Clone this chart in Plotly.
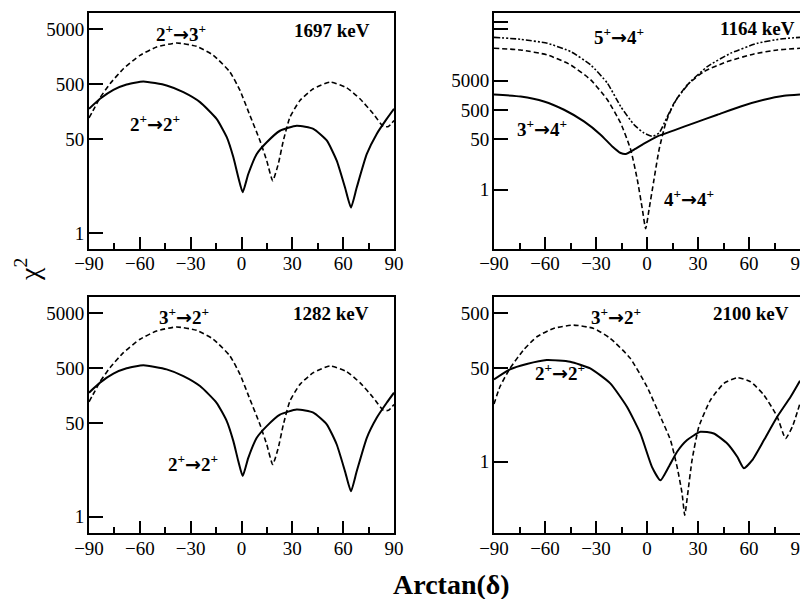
import plotly.graph_objects as go

# ---------------- data ----------------
# 1697 keV panel
x_1697_22 = [-90, -83.5, -75.6, -67.8, -57.9, -44.2, -34.3, -24.5, -14.7, -8.7, -4.8, -1.9, 0.7,
             4.0, 9.0, 14.9, 22.7, 32.6, 42.4, 50.3, 56.2, 61.1, 64.6, 68.0, 73.9, 79.8, 85.7, 90]
y_1697_22 = [180, 274, 399, 499, 565, 478, 361, 238, 118, 55, 23.7, 10.3, 5.5,
             11.8, 27.3, 44.5, 72, 89, 78, 48, 20.6, 6.7, 2.9, 6.7, 27, 63, 118, 180]
x_1697_23 = [-90, -86.5, -83.5, -77.6, -69.7, -59.9, -50.1, -38.3, -26.5, -16.6, -6.8, -0.9, 5.0,
             10.9, 14.9, 18.4, 21.7, 24.7, 28.6, 34.5, 42.4, 52.2, 62.1, 69.9, 77.8, 83.7, 86.7, 90]
y_1697_23 = [123, 193, 285, 513, 962, 1683, 2385, 2818, 2453, 1683, 836, 388, 136,
             47.6, 20.6, 8.9, 17.9, 47.6, 127, 255, 416, 550, 433, 274, 146, 86, 86, 110]

# 1282 keV panel (same shapes as 1697 keV)
x_1282_22 = list(x_1697_22)
y_1282_22 = list(y_1697_22)
x_1282_32 = list(x_1697_23)
y_1282_32 = list(y_1697_23)

# 1164 keV panel
x_1164_34 = [-90, -74.3, -60.6, -48.8, -37.1, -27.3, -20.4, -15.5, -12.5, -7.6, -1.8, 6.1,
             15.9, 27.6, 41.4, 55.1, 68.8, 80.6, 90]
y_1164_34 = [1680, 1438, 975, 509, 205, 73, 29, 17.4, 16.1, 22.6, 36, 64,
             102, 180, 345, 660, 1110, 1514, 1680]
x_1164_44 = [-90, -74.3, -58.6, -44.9, -33.1, -23.3, -15.5, -9.6, -5.7, -2.7, -0.8, 1.2,
             4.1, 7.1, 11.0, 15.9, 23.7, 33.5, 47.3, 62.9, 76.7, 90]
y_1164_44 = [62100, 54400, 36900, 16900, 5270, 1110, 180, 22.6, 2.18, 0.21, 0.047, 0.21,
             2.18, 22.6, 180, 855, 3560, 10100, 22000, 39900, 54400, 62100]
x_1164_54 = [-90, -74.3, -58.6, -44.9, -33.1, -23.3, -15.5, -7.6, -1.8, 3.1, 7.1, 12.0,
             17.8, 25.7, 35.5, 49.2, 64.9, 78.6, 90]
y_1164_54 = [146000, 125000, 91600, 47900, 16900, 4060, 660, 158, 83, 64, 83, 303,
             1262, 4620, 14900, 42000, 91600, 128000, 146000]

# 2100 keV panel
x_2100_22 = [-90, -80.6, -70.7, -59.0, -45.2, -33.4, -21.6, -11.8, -3.9, 2.9, 7.9, 12.8,
             17.7, 23.6, 31.4, 39.3, 47.2, 53.1, 57.0, 61.9, 68.8, 76.6, 84.5, 90]
y_2100_22 = [31.4, 47.7, 59.7, 70.5, 65.8, 49.8, 26.6, 10, 3.27, 0.81, 0.46, 0.81,
             1.52, 2.48, 3.51, 3.27, 2.15, 1.23, 0.76, 1.07, 2.48, 6.58, 15.2, 29.7]
x_2100_32 = [-90, -86.5, -80.6, -72.7, -64.8, -55.0, -43.2, -31.4, -21.6, -9.8, 0.0, 7.9,
             13.8, 17.7, 20.6, 22.2, 24.0, 26.5, 30.5, 37.3, 45.2, 53.1, 60.9, 68.8,
             76.6, 81.5, 85.5, 90]
y_2100_32 = [11.2, 23.1, 49.8, 107, 187, 265, 305, 265, 175, 75.7, 23.1, 6.58,
             2.48, 0.81, 0.27, 0.107, 0.27, 1.07, 4.33, 13.2, 26.6, 33.7, 28.5, 16.3,
             6.58, 2.66, 4.33, 11.5]

x_ticks = [-90, -60, -30, 0, 30, 60, 90]
x_ticktext = ["\u221290", "\u221260", "\u221230", "0", "30", "60", "90"]
y_ticks_main = [1, 50, 500, 5000]
y_ticks_1164 = [1, 50, 500, 5000, 270000, 500000]
y_text_1164 = ["1", "50", "500", "5000", "", ""]
y_ticks_2100 = [1, 50, 500]

FONT = "Liberation Serif"
SOLID = dict(color="black", width=2, dash="solid")
DASH = dict(color="black", width=1.6, dash="5px,3px")
DASHDOT = dict(color="black", width=1.6, dash="6px,2px,2px,2px,2px,2px")

fig = go.Figure()

def add(x, y, line, xa, ya):
    fig.add_trace(go.Scatter(x=x, y=y, mode="lines", line=dict(shape="spline", smoothing=0.5, **line),
                             xaxis=xa, yaxis=ya, showlegend=False, hoverinfo="skip"))

add(x_1697_23, y_1697_23, DASH, "x", "y")
add(x_1697_22, y_1697_22, SOLID, "x", "y")
add(x_1164_54, y_1164_54, DASHDOT, "x2", "y2")
add(x_1164_44, y_1164_44, DASH, "x2", "y2")
add(x_1164_34, y_1164_34, SOLID, "x2", "y2")
add(x_1282_32, y_1282_32, DASH, "x3", "y3")
add(x_1282_22, y_1282_22, SOLID, "x3", "y3")
add(x_2100_32, y_2100_32, DASH, "x4", "y4")
add(x_2100_22, y_2100_22, SOLID, "x4", "y4")

W, H = 808, 599
OFF = 8  # page body margin in the browser
px = lambda v: (v - OFF) / W
py = lambda v: 1 - (v - OFF) / H
dom_x_left = [px(89), px(394)]
dom_x_right = [px(494), px(800)]
dom_y_top = [py(248.5), py(12.7)]
dom_y_bot = [py(533.3), py(296.7)]

TICKFONT = dict(family=FONT, size=19, color="black")

def xax(domain, anchor):
    return dict(domain=domain, anchor=anchor, range=[-90, 90], tickvals=x_ticks, ticktext=x_ticktext,
                ticks="inside", ticklen=12, tickwidth=1.5, tickcolor="black", ticklabelstandoff=-3,
                minor=dict(dtick=15, tick0=-90, ticks="inside", ticklen=6, tickwidth=1.5, tickcolor="black"),
                showline=True, linecolor="black", linewidth=2, mirror=True, automargin=False,
                showgrid=False, zeroline=False, tickfont=TICKFONT)

def yax(domain, anchor, rng, vals, text=None):
    d = dict(domain=domain, anchor=anchor, type="log", range=rng, tickvals=vals,
             ticks="inside", ticklen=14, tickwidth=1.5, tickcolor="black", ticklabelstandoff=-1,
             showline=True, linecolor="black", linewidth=2, mirror=True, automargin=False,
             showgrid=False, zeroline=False, tickfont=TICKFONT)
    d["ticktext"] = text if text is not None else [str(v) for v in vals]
    return d

fig.update_layout(
    width=W, height=H, margin=dict(l=0, r=0, t=0, b=0),
    paper_bgcolor="white", plot_bgcolor="white",
    xaxis=xax(dom_x_left, "y"), yaxis=yax(dom_y_top, "x", [-0.28, 4.0], y_ticks_main),
    xaxis2=xax(dom_x_right, "y2"), yaxis2=yax(dom_y_top, "x2", [-2, 6], y_ticks_1164, y_text_1164),
    xaxis3=xax(dom_x_left, "y3"), yaxis3=yax(dom_y_bot, "x3", [-0.3, 4.0], y_ticks_main),
    xaxis4=xax(dom_x_right, "y4"), yaxis4=yax(dom_y_bot, "x4", [-1.3, 3.0], y_ticks_2100),
)

LBL = dict(family=FONT, size=19, color="black")
def lab(text, x, ly, xr, yr, xanchor="center"):
    fig.add_annotation(text="<b>" + text + "</b>", x=x, y=ly, xref=xr, yref=yr, showarrow=False,
                       xanchor=xanchor, yanchor="middle", font=LBL)

ARROW = '<span style="font-family:DejaVu Sans">\u2192</span>'
T = lambda a, b: f"{a}<sup>+</sup>{ARROW}{b}<sup>+</sup>"
lab(T(2, 3), -35.7, 3.63, "x", "y")
lab("1697 keV", 77, 3.68, "x", "y", "right")
lab(T(2, 2), -51.1, 2.0, "x", "y")
lab(T(5, 4), -16.5, 5.21, "x2", "y2")
lab("1164 keV", 88.2, 5.48, "x2", "y2", "right")
lab(T(3, 4), -61.8, 2.1, "x2", "y2")
lab(T(4, 4), 24.7, -0.27, "x2", "y2")
lab(T(3, 2), -33.9, 3.65, "x3", "y3")
lab("1282 keV", 76.4, 3.70, "x3", "y3", "right")
lab(T(2, 2), -28.6, 0.98, "x3", "y3")
lab(T(3, 2), -18.2, 2.65, "x4", "y4")
lab("2100 keV", 84.7, 2.70, "x4", "y4", "right")
lab(T(2, 2), -51.2, 1.63, "x4", "y4")

fig.add_annotation(text="\u03c7<sup>2</sup>", x=px(27), y=py(270), xref="paper", yref="paper",
                   xanchor="center", yanchor="middle",
                   showarrow=False, textangle=-90, font=dict(family=FONT, size=28, color="black"))
fig.add_annotation(text="<b>Arctan(\u03b4)</b>", x=px(451), y=py(584), xref="paper", yref="paper",
                   xanchor="center", yanchor="middle",
                   showarrow=False, font=dict(family=FONT, size=28, color="black"))

fig.write_html("out.html")
